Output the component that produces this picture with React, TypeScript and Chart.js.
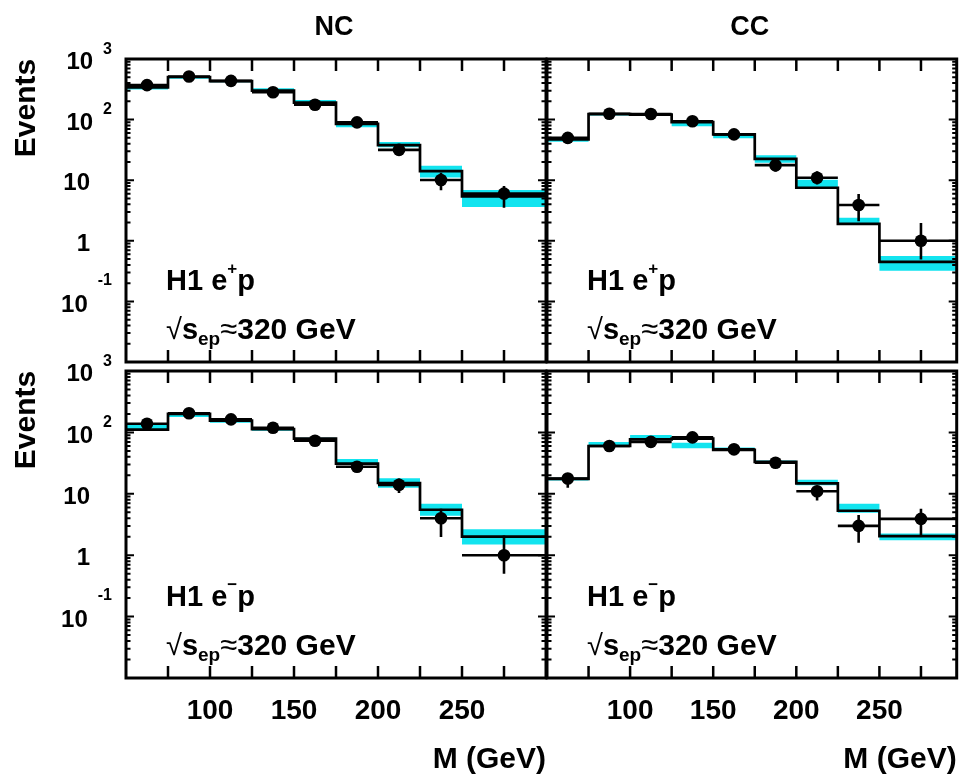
import React, { useEffect, useRef } from 'react';
import { Chart, registerables } from 'chart.js';

Chart.register(...registerables);

const W = 963;
const H = 778;
const FONT = '"Liberation Sans", Arial, Helvetica, sans-serif';
const CYAN = '#12e4ef';

// ---- shared axis data ----
const binEdges = [50, 75, 100, 125, 150, 175, 200, 225, 250, 300];
const xTickValues = [75, 100, 125, 150, 175, 200, 225, 250, 275];
const xLabelValues = [100, 150, 200, 250];
const yDecades = [0.01, 0.1, 1, 10, 100];
const yMinorMultipliers = [2, 3, 4, 5, 6, 7, 8, 9];
const yLabelValues = [1000, 100, 10, 1, 0.1];
const yLabelBase = ['10', '10', '10', '1', '10'];
const yLabelExp = ['3', '2', '', '', '-1'];

// ---- NC e+p ----
const ncPosData = [370, 515, 435, 282, 176, 90, 31.6, 10.1, 6.0];
const ncPosErrLow = [350, 492, 414, 265, 163, 81, 26, 6.8, 3.5];
const ncPosErrHigh = [390, 538, 456, 299, 189, 100, 38, 13.3, 8.0];
const ncPosMC = [340, 505, 430, 300, 190, 85, 38, 14.1, 5.4];
const ncPosBandLow = [315, 470, 415, 292, 185, 75, 35, 11.1, 3.6];
const ncPosBandHigh = [345, 512, 445, 330, 210, 85, 42.6, 17.3, 6.9];

// ---- CC e+p ----
const ccPosData = [50, 125, 124, 94, 57, 17.7, 11, 3.9, 1.0];
const ccPosErrLow = [43, 114, 113, 85, 50, 13.8, 8.5, 2.1, 0.49];
const ccPosErrHigh = [57, 136, 135, 104, 65, 22, 14, 5.9, 1.97];
const ccPosMC = [47, 123, 121, 91, 57, 22.5, 7.5, 1.9, 0.45];
const ccPosBandLow = [43, 117, 115, 78, 49, 19.4, 7.4, 1.85, 0.32];
const ccPosBandHigh = [49, 129, 127, 92, 58, 25.8, 10.2, 2.4, 0.56];

// ---- NC e-p ----
const ncNegData = [138, 205, 163, 119, 73, 27.5, 14, 4.0, 1.0];
const ncNegErrLow = [127, 191, 151, 109, 65, 22.5, 10.3, 1.98, 0.5];
const ncNegErrHigh = [150, 219, 176, 130, 82, 33, 17.8, 5.7, 2.1];
const ncNegMC = [111, 200, 155, 113, 79, 31, 15, 5.5, 2.0];
const ncNegBandLow = [112, 178, 143, 106, 72, 31, 12.5, 4.4, 1.5];
const ncNegBandHigh = [132, 205, 158, 116, 82, 37, 18, 6.9, 2.65];

// ---- CC e-p ----
const ccNegData = [17.7, 60, 70, 83, 53, 32, 11, 3.0, 3.9];
const ccNegErrLow = [12.5, 52, 62, 74, 46, 26.5, 7.8, 1.6, 2.0];
const ccNegErrHigh = [21.5, 68, 79, 92, 60, 38, 13.7, 4.5, 5.7];
const ccNegMC = [17.5, 60, 77, 79, 52, 33, 14.8, 5.3, 2.05];
const ccNegBandLow = [16.5, 60, 76, 55, 52, 32, 13.8, 4.9, 1.75];
const ccNegBandHigh = [18.2, 70, 91, 68, 57, 35, 17, 6.9, 2.25];

interface Panel {
  data: number[]; errLow: number[]; errHigh: number[];
  mc: number[]; bandLow: number[]; bandHigh: number[];
  area: { left: number; top: number; right: number; bottom: number };
  xMax: number;
  yLabels: boolean; xLabels: boolean;
  title: string; charge: string;
}

const panels: Panel[] = [
  { data: ncPosData, errLow: ncPosErrLow, errHigh: ncPosErrHigh, mc: ncPosMC, bandLow: ncPosBandLow, bandHigh: ncPosBandHigh,
    area: { left: 126, top: 59, right: 546, bottom: 362 }, xMax: 300, yLabels: true, xLabels: false, title: 'NC', charge: '+' },
  { data: ccPosData, errLow: ccPosErrLow, errHigh: ccPosErrHigh, mc: ccPosMC, bandLow: ccPosBandLow, bandHigh: ccPosBandHigh,
    area: { left: 547, top: 59, right: 962, bottom: 362 }, xMax: 296.5, yLabels: false, xLabels: false, title: 'CC', charge: '+' },
  { data: ncNegData, errLow: ncNegErrLow, errHigh: ncNegErrHigh, mc: ncNegMC, bandLow: ncNegBandLow, bandHigh: ncNegBandHigh,
    area: { left: 126, top: 371, right: 546, bottom: 678 }, xMax: 300, yLabels: true, xLabels: true, title: '', charge: '\u2212' },
  { data: ccNegData, errLow: ccNegErrLow, errHigh: ccNegErrHigh, mc: ccNegMC, bandLow: ccNegBandLow, bandHigh: ccNegBandHigh,
    area: { left: 547, top: 371, right: 962, bottom: 678 }, xMax: 296.5, yLabels: false, xLabels: true, title: '', charge: '\u2212' },
];

function font(size: number, weight = 'bold') {
  return `${weight} ${size}px ${FONT}`;
}

type Run = { t: string; size: number; weight?: string; dy?: number };
function drawRuns(ctx: CanvasRenderingContext2D, runs: Run[], x: number, baseline: number) {
  let cx = x;
  ctx.textAlign = 'left';
  ctx.textBaseline = 'alphabetic';
  for (const r of runs) {
    ctx.font = font(r.size, r.weight || 'bold');
    ctx.fillText(r.t, cx, baseline + (r.dy || 0));
    cx += ctx.measureText(r.t).width;
  }
}

function stepPoints(values: number[]) {
  return binEdges.map((x, i) => ({ x, y: values[Math.min(i, values.length - 1)] }));
}

function panelPlugin(p: Panel) {
  return {
    id: 'panelDecor',
    afterDatasetsDraw(chart: any) {
      const { ctx, chartArea: a } = chart;
      const xs = chart.scales.x;
      const ys = chart.scales.y;
      ctx.save();
      ctx.beginPath();
      ctx.rect(a.left, a.top, a.right - a.left, a.bottom - a.top);
      ctx.clip();
      ctx.strokeStyle = '#000';
      ctx.lineWidth = 2.6;
      ctx.lineCap = 'butt';
      p.data.forEach((v, i) => {
        const x1 = xs.getPixelForValue(binEdges[i]);
        const x2 = xs.getPixelForValue(binEdges[i + 1]);
        const xc = xs.getPixelForValue((binEdges[i] + binEdges[i + 1]) / 2);
        const y = ys.getPixelForValue(v);
        ctx.beginPath();
        ctx.moveTo(x1, y);
        ctx.lineTo(x2, y);
        ctx.moveTo(xc, ys.getPixelForValue(p.errLow[i]));
        ctx.lineTo(xc, ys.getPixelForValue(p.errHigh[i]));
        ctx.stroke();
      });
      ctx.restore();
    },
    afterDraw(chart: any) {
      const { ctx, chartArea: a } = chart;
      const xs = chart.scales.x;
      const ys = chart.scales.y;
      ctx.save();
      ctx.strokeStyle = '#000';
      ctx.fillStyle = '#000';
      // inward ticks
      ctx.lineWidth = 2.5;
      ctx.beginPath();
      xTickValues.forEach((v) => {
        const px = xs.getPixelForValue(v);
        if (px <= a.left + 1 || px >= a.right - 1) return;
        ctx.moveTo(px, a.bottom);
        ctx.lineTo(px, a.bottom - 12);
        ctx.moveTo(px, a.top);
        ctx.lineTo(px, a.top + 12);
      });
      ctx.stroke();
      ctx.lineWidth = 2;
      ctx.beginPath();
      yDecades.forEach((d) => {
        [1, ...yMinorMultipliers].forEach((k) => {
          const v = d * k;
          const py = ys.getPixelForValue(v);
          if (py <= a.top + 1 || py >= a.bottom - 1) return;
          const len = k === 1 ? 8 : 4.5;
          ctx.moveTo(a.left, py);
          ctx.lineTo(a.left + len, py);
          ctx.moveTo(a.right, py);
          ctx.lineTo(a.right - len, py);
        });
      });
      ctx.stroke();
      // frame
      ctx.lineWidth = 3;
      ctx.strokeRect(a.left, a.top, a.right - a.left, a.bottom - a.top);

      // y tick labels with exponents
      if (p.yLabels) {
        yLabelValues.forEach((v, i) => {
          const py = ys.getPixelForValue(v);
          const base = yLabelBase[i];
          const exp = yLabelExp[i];
          ctx.textBaseline = 'alphabetic';
          if (exp) {
            ctx.font = font(16);
            ctx.textAlign = 'right';
            const ew = ctx.measureText(exp).width;
            const eCenter = py - (exp.startsWith('-') ? 22 : 11);
            ctx.fillText(exp, a.left - 14, eCenter + 5.7);
            ctx.font = font(24);
            ctx.fillText(base, a.left - 14 - ew - 10, py + 1.5 + 8.6);
          } else {
            ctx.font = font(24);
            ctx.textAlign = 'right';
            ctx.fillText(base, a.left - 36, py + 1.5 + 8.6);
          }
        });
        // axis title
        ctx.save();
        ctx.translate(27, a.top + 49);
        ctx.rotate(-Math.PI / 2);
        ctx.font = font(30);
        ctx.textAlign = 'center';
        ctx.textBaseline = 'middle';
        ctx.fillText('Events', 0, 0);
        ctx.restore();
      }
      // column title
      if (p.title) {
        ctx.font = font(27);
        ctx.textAlign = 'center';
        ctx.textBaseline = 'alphabetic';
        ctx.fillText(p.title, (a.left + a.right) / 2 - 2, 25.5 + 9.7);
      }
      // annotations
      const tx = a.left + 40;
      drawRuns(ctx, [
        { t: 'H1 e', size: 29 },
        { t: p.charge, size: 17, dy: -16 },
        { t: 'p', size: 29 },
      ], tx, a.bottom - 72);
      drawRuns(ctx, [
        { t: '\u221A', size: 29, weight: 'normal' },
        { t: 's', size: 29 },
        { t: 'ep', size: 19, dy: 6 },
        { t: '\u2248', size: 31, weight: 'normal' },
        { t: '320 GeV', size: 30 },
      ], tx, a.bottom - 23);
      ctx.restore();
    },
  };
}

function makeConfig(p: Panel): any {
  const dataPts = p.data.map((y, i) => ({ x: (binEdges[i] + binEdges[i + 1]) / 2, y }));
  return {
    type: 'line',
    data: {
      datasets: [
        { label: 'Data', data: dataPts, showLine: false, pointRadius: 6.3, pointHoverRadius: 6.3,
          pointBackgroundColor: '#000', pointBorderColor: '#000', pointBorderWidth: 0, order: 0 },
        { label: 'SM', data: stepPoints(p.mc), stepped: true, borderColor: '#000', borderWidth: 2.7,
          pointRadius: 0, fill: false, order: 1 },
        { label: 'SM high', data: stepPoints(p.bandHigh), stepped: true, borderWidth: 0,
          borderColor: 'rgba(0,0,0,0)', backgroundColor: CYAN, pointRadius: 0, fill: '+1', order: 2 },
        { label: 'SM low', data: stepPoints(p.bandLow), stepped: true, borderWidth: 0,
          borderColor: 'rgba(0,0,0,0)', pointRadius: 0, fill: false, order: 3 },
      ],
    },
    options: {
      animation: false,
      responsive: false,
      devicePixelRatio: 1,
      events: [],
      layout: {
        padding: {
          left: p.area.left,
          top: p.area.top,
          right: W - p.area.right,
          bottom: p.xLabels ? 0 : H - p.area.bottom,
        },
      },
      plugins: { legend: { display: false }, tooltip: { enabled: false }, title: { display: false } },
      scales: {
        x: {
          type: 'linear',
          min: 50,
          max: p.xMax,
          display: p.xLabels,
          grid: { display: false, drawTicks: false },
          border: { display: false },
          afterBuildTicks: (s: any) => { s.ticks = xLabelValues.map((v) => ({ value: v })); },
          afterFit: (s: any) => { s.height = p.xLabels ? H - p.area.bottom : 0; },
          ticks: {
            padding: 16, color: '#000', autoSkip: false, maxRotation: 0, minRotation: 0,
            font: { family: FONT, size: 28, weight: 'bold' },
            callback: (v: any) => String(v),
          },
          title: {
            display: true, text: 'M (GeV)', align: 'end', color: '#000',
            font: { family: FONT, size: 30, weight: 'bold' },
            padding: { top: 0, bottom: 0 },
          },
        },
        y: { type: 'logarithmic', min: 0.01, max: 1000, display: false },
      },
    },
    plugins: [panelPlugin(p)],
  };
}

function PanelCanvas({ p }: { p: Panel }) {
  const ref = useRef<HTMLCanvasElement>(null);
  useEffect(() => {
    if (!ref.current) return;
    const chart = new Chart(ref.current, makeConfig(p));
    return () => chart.destroy();
  }, [p]);
  return (
    <canvas ref={ref} width={W} height={H}
      style={{ position: 'absolute', left: 0, top: 0, width: W, height: H }} />
  );
}

export default function App() {
  return (
    <div style={{ position: 'absolute', left: 0, top: 0, width: W, height: H, background: '#fff', overflow: 'hidden' }}>
      {panels.map((p, i) => <PanelCanvas key={i} p={p} />)}
    </div>
  );
}
